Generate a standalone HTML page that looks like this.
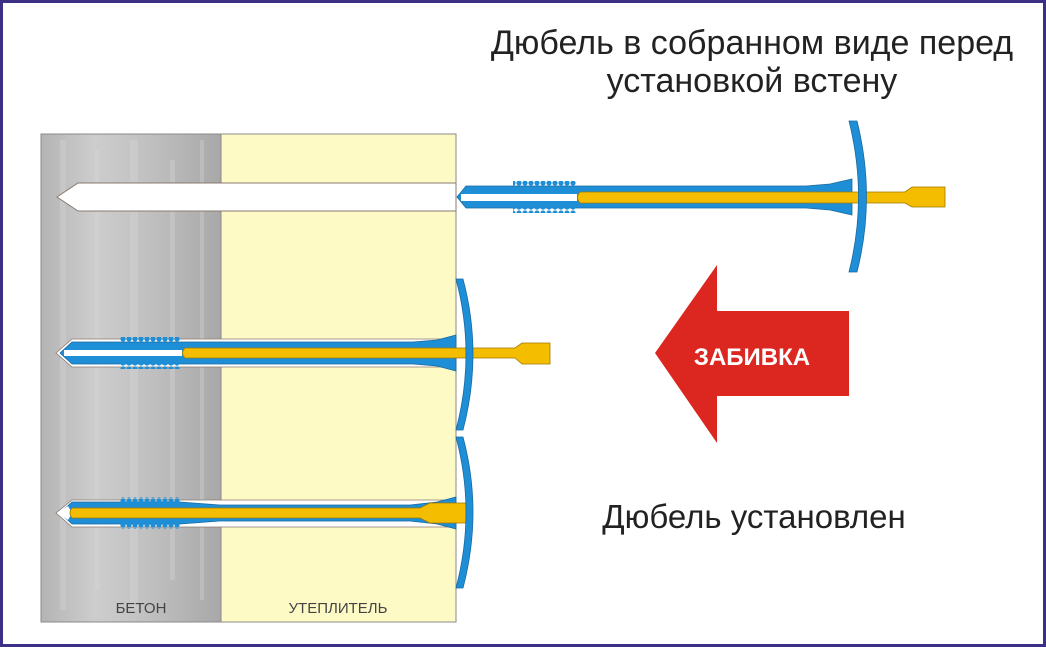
<!DOCTYPE html>
<html><head><meta charset="utf-8"><style>
html,body{margin:0;padding:0;background:#fff}
svg{display:block}
text{font-family:"Liberation Sans",sans-serif}
</style></head><body>
<svg width="1046" height="647" viewBox="0 0 1046 647" xmlns="http://www.w3.org/2000/svg">
<defs>
<linearGradient id="con" x1="0" x2="1" y1="0" y2="0">
<stop offset="0" stop-color="#b4b4b4"/><stop offset="0.3" stop-color="#cdcdcd"/><stop offset="0.6" stop-color="#c0c0c0"/><stop offset="1" stop-color="#a8a8a8"/>
</linearGradient>
<pattern id="thr" width="6" height="6" patternUnits="userSpaceOnUse"><circle cx="3" cy="3" r="2.6" fill="#1e8fd6"/></pattern>
</defs>
<rect x="1.5" y="1.5" width="1043" height="644" fill="#fff" stroke="#3b2f86" stroke-width="3"/>
<!-- wall -->
<rect x="41" y="134" width="180" height="488" fill="url(#con)" stroke="#8a8a8a"/>
<g fill="#d8d8d8" opacity="0.35">
<rect x="60" y="140" width="6" height="470"/><rect x="95" y="150" width="4" height="440"/><rect x="130" y="140" width="8" height="470"/><rect x="170" y="160" width="5" height="420"/><rect x="200" y="140" width="4" height="460"/>
</g>
<rect x="221" y="134" width="235" height="488" fill="#fefac6" stroke="#8a8a8a"/>
<text x="141" y="613" font-size="15" fill="#444" text-anchor="middle">БЕТОН</text>
<text x="338" y="613" font-size="15" fill="#444" text-anchor="middle">УТЕПЛИТЕЛЬ</text>
<!-- hole top -->
<polygon points="57,197 78,183 456,183 456,211 78,211" fill="#fff" stroke="#8a7a70"/>

<!-- Dowel 1 -->
<polygon points="457,197 466,186 806,186 830,184 852,179 852,215 830,210 806,208 466,208" fill="#1e8fd6" stroke="#1a6aa0" stroke-width="0.8"/>
<rect x="513" y="181" width="63" height="6" fill="url(#thr)"/>
<rect x="513" y="207" width="63" height="6" fill="url(#thr)"/>
<rect x="461" y="194" width="116" height="7" fill="#fff"/>
<path d="M580,192 L905,192 L912,187 L945,187 L945,207 L912,207 L905,203 L580,203 Q575,197.5 580,192Z" fill="#f5bd00" stroke="#a07800" stroke-width="0.8"/>
<path d="M849,121 Q868,197 849,272 L857,272 Q876,197 857,121Z" fill="#1e8fd6" stroke="#1a6aa0" stroke-width="0.8"/>

<!-- Dowel 2 -->
<polygon points="56,353 72,339 456,339 456,367 72,367" fill="#fff" stroke="#8a7a70" stroke-width="0.8"/>
<polygon points="60,353 72,342 413,342 437,340 456,335 456,371 437,366 413,364 72,364" fill="#1e8fd6" stroke="#1a6aa0" stroke-width="0.8"/>
<rect x="120" y="337" width="60" height="6" fill="url(#thr)"/>
<rect x="120" y="363" width="60" height="6" fill="url(#thr)"/>
<rect x="64" y="350" width="118" height="6" fill="#fff"/>
<path d="M185,348 L515,348 L522,343 L550,343 L550,364 L522,364 L515,358 L185,358 Q180,353 185,348Z" fill="#f5bd00" stroke="#a07800" stroke-width="0.8"/>
<path d="M456,279 Q476,354 456,430 L463,430 Q483,354 463,279Z" fill="#1e8fd6" stroke="#1a6aa0" stroke-width="0.8"/>

<!-- Dowel 3 -->
<polygon points="56,513 72,500 456,500 456,527 72,527" fill="#fff" stroke="#8a7a70" stroke-width="0.8"/>
<polygon points="60,513 72,502 180,502 220,505 410,505 437,502 456,497 456,529 437,524 410,521 220,521 180,524 72,524" fill="#1e8fd6" stroke="#1a6aa0" stroke-width="0.8"/>
<rect x="120" y="497" width="60" height="6" fill="url(#thr)"/>
<rect x="120" y="523" width="60" height="6" fill="url(#thr)"/>
<polygon points="58,513 68,506 72,513 68,520" fill="#fff"/>
<path d="M72,508 L420,508 L430,503 L470,503 L470,523 L430,523 L420,518 L72,518 Q68,513 72,508Z" fill="#f5bd00" stroke="#a07800" stroke-width="0.8"/>
<path d="M456,437 Q476,512 456,588 L463,588 Q483,512 463,437Z" fill="#1e8fd6" stroke="#1a6aa0" stroke-width="0.8"/>

<!-- Arrow -->
<polygon points="655,353 717,265 717,311 849,311 849,396 717,396 717,443" fill="#db2720"/>
<text x="752" y="365" font-size="24" font-weight="bold" fill="#fff" text-anchor="middle">ЗАБИВКА</text>

<!-- Texts -->
<text x="752" y="54" font-size="34" fill="#222" text-anchor="middle">Дюбель в собранном виде перед</text>
<text x="752" y="92" font-size="34" fill="#222" text-anchor="middle">установкой встену</text>
<text x="754" y="528" font-size="33" fill="#222" text-anchor="middle">Дюбель установлен</text>
</svg>
</body></html>
